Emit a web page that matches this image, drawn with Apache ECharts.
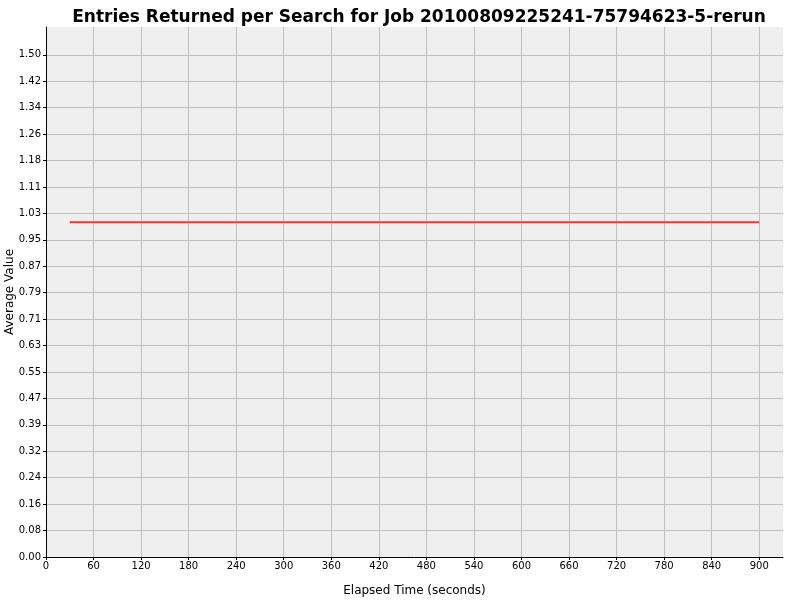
<!DOCTYPE html>
<html lang="en">
  <head>
    <meta charset="UTF-8" />
    <title>Entries Returned per Search</title>
    <script src="https://cdn.jsdelivr.net/npm/echarts@6/dist/echarts.min.js"></script>
    <style>
      html, body { margin: 0; padding: 0; background: #ffffff; }
      #chart { width: 800px; height: 600px; }
    </style>
  </head>
  <body>
    <div id="chart"></div>
    <script>
      // elapsed time (s) and the average value at each sample
      const elapsed = [30, 60, 90, 120, 150, 180, 210, 240, 270, 300, 330, 360, 390, 420, 450,
        480, 510, 540, 570, 600, 630, 660, 690, 720, 750, 780, 810, 840, 870, 900]
      const avgValue = [1, 1, 1, 1, 1, 1, 1, 1, 1, 1, 1, 1, 1, 1, 1,
        1, 1, 1, 1, 1, 1, 1, 1, 1, 1, 1, 1, 1, 1, 1]
      // tick positions shown on each axis
      const xTicks = [0, 60, 120, 180, 240, 300, 360, 420, 480, 540, 600, 660, 720, 780, 840, 900]
      const yTicks = []
      for (let i = 0; i <= 19; i++) yTicks.push(i * 1.5 / 19)

      const font = 'DejaVu Sans'
      const chart = echarts.init(document.getElementById('chart'))
      chart.setOption({
        backgroundColor: '#ffffff',
        animation: false,
        title: {
          text: 'Entries Returned per Search for Job 20100809225241-75794623-5-rerun',
          left: 414,
          textAlign: 'center',
          top: 4,
          textStyle: { fontFamily: font, fontWeight: 'bold', fontSize: 17, color: '#000' }
        },
        grid: {
          left: 46, right: 17, top: 27, bottom: 43,
          containLabel: false, outerBoundsMode: 'none',
          show: true, backgroundColor: '#efefef', borderWidth: 0
        },
        xAxis: {
          type: 'value',
          min: 0,
          max: 930,
          interval: 60,
          name: 'Elapsed Time (seconds)',
          nameLocation: 'middle',
          nameGap: 28,
          nameMoveOverlap: false,
          nameTextStyle: { fontFamily: font, fontSize: 12, color: '#000' },
          axisLine: { onZero: false, lineStyle: { color: '#000', width: 1 } },
          axisTick: { length: 3, customValues: xTicks, lineStyle: { color: '#000' } },
          axisLabel: {
            fontFamily: font, fontSize: 10, color: '#000', margin: 4,
            customValues: xTicks,
            formatter: v => String(Math.round(v))
          },
          splitLine: { lineStyle: { color: '#c0c0c0', width: 1 } }
        },
        yAxis: {
          type: 'value',
          min: 0,
          max: 1.583,
          interval: 1.5 / 19,
          name: 'Average Value',
          nameLocation: 'middle',
          nameGap: 30,
          nameMoveOverlap: false,
          nameTextStyle: { fontFamily: font, fontSize: 12, color: '#000' },
          axisLine: { show: true, lineStyle: { color: '#000', width: 1 } },
          axisTick: { show: true, length: 3, customValues: yTicks, lineStyle: { color: '#000' } },
          axisLabel: {
            fontFamily: font, fontSize: 10, color: '#000', margin: 5,
            customValues: yTicks,
            formatter: v => v.toFixed(2)
          },
          splitLine: { lineStyle: { color: '#c0c0c0', width: 1 } }
        },
        series: [{
          type: 'line',
          data: elapsed.map((t, i) => [t, avgValue[i]]),
          showSymbol: false,
          lineStyle: { color: '#ff3333', width: 2 },
          itemStyle: { color: '#ff3333' }
        }]
      })
    </script>
  </body>
</html>
